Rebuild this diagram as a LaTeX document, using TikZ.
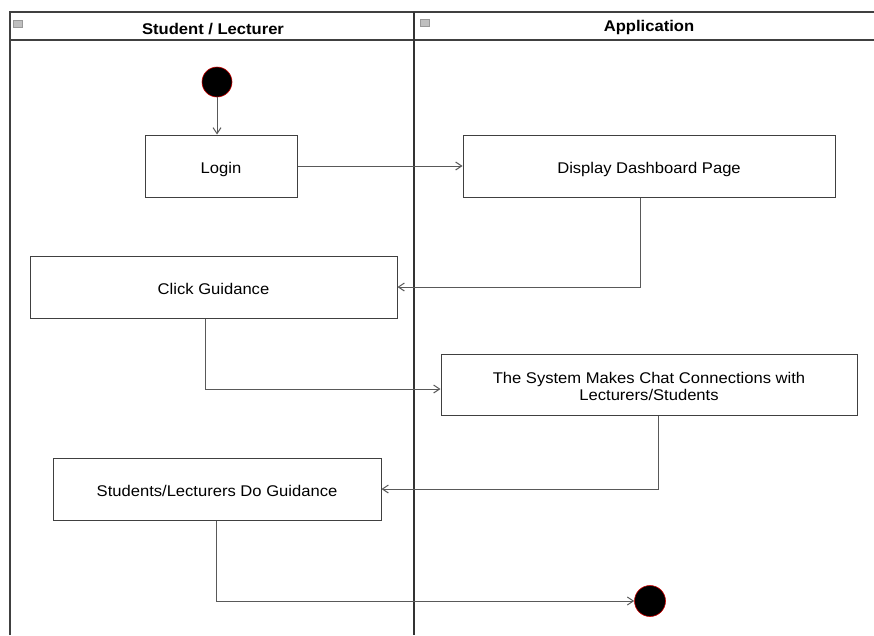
\documentclass[tikz,border=0pt]{standalone}
\usepackage{fontspec}
\setmainfont[FakeStretch=1.07]{Liberation Sans}
\usetikzlibrary{arrows.meta}
\begin{document}
\begin{tikzpicture}[x=1pt,y=-1pt,
  act/.style={draw=black!75,line width=1pt,fill=white,inner sep=0pt,text height=14pt,text depth=0pt,font=\fontsize{15.5}{17}\selectfont,align=center},
  flow/.style={draw=black!65,line width=1pt,-{Straight Barb[length=6pt,width=8pt]}},
  dot/.style={circle,fill=black,draw=red!80!black,line width=0.6pt,minimum size=30pt,inner sep=0pt},
  lanehead/.style={font=\bfseries\fontsize{15.5}{17}\selectfont},
  icon/.style={draw=black!40,fill=black!25,line width=0.6pt,minimum width=9pt,minimum height=7pt,inner sep=0pt}]
\useasboundingbox (0,0) rectangle (874,635);
\fill[white] (0,0) rectangle (874,635);

% swimlane frame
\draw[black!75,line width=1.2pt] (10,635) -- (10,12) -- (874,12);
\draw[black!75,line width=1.2pt] (10,40) -- (874,40);
\draw[black!80,line width=2.6pt] (414,12) -- (414,635);
\node[icon] (i1) at (18,24) {};
\node[icon] (i2) at (425,23) {};
\node[lanehead] (h1) at (213,29) {Student / Lecturer};
\node[lanehead] (h2) at (649,27) {Application};

% activities
\node[dot] (start) at (217,82) {};
\node[act,minimum width=152pt,minimum height=62pt] (login) at (221,166) {Login};
\node[act,minimum width=372pt,minimum height=62pt] (dash) at (649,166) {Display Dashboard Page};
\node[act,minimum width=367pt,minimum height=62pt] (click) at (213.5,287) {Click Guidance};
\node[act,text height=31pt,minimum width=416pt,minimum height=61pt] (sys) at (649,384.5) {The System Makes Chat Connections with\\Lecturers/Students};
\node[act,minimum width=328pt,minimum height=62pt] (guide) at (217,489) {Students/Lecturers Do Guidance};
\node[dot,minimum size=31pt] (end) at (650,601) {};

% control flow
\draw[flow] (start) -- (login.north -| start);
\draw[flow] (login) -- (dash);
\draw[flow] (dash.south -| 640,0) |- (click.east);
\draw[flow] (click.south -| 205,0) |- (sys.west |- 0,389);
\draw[flow] (sys.south -| 658,0) |- (guide.east);
\draw[flow] (guide.south -| 216,0) |- (end.west);
\end{tikzpicture}
\end{document}
